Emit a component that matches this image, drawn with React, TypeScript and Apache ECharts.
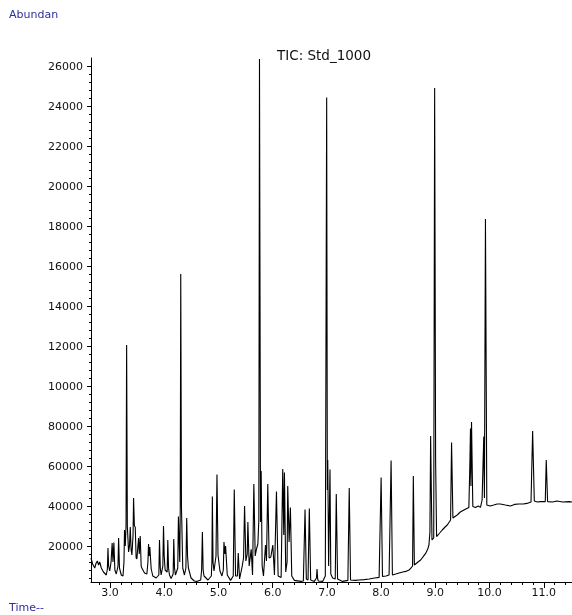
import React, { useEffect, useRef } from "react";
import * as echarts from "echarts";

// Retention time (min) / abundance pairs
const earlyElution: [number, number][] = [
  [2.65, 14000], [2.68, 11000], [2.719, 9000], [2.745, 11500], [2.767, 12500], [2.79, 10500], [2.811, 12000],
  [2.84, 9000], [2.88, 7000], [2.932, 5500], [2.952, 8500], [2.963, 19000], [2.975, 10000], [2.995, 7500],
  [3.02, 12000], [3.04, 21500], [3.055, 12000], [3.072, 21700], [3.09, 8000], [3.116, 6000], [3.148, 10000],
  [3.159, 24000], [3.175, 9000], [3.208, 5500], [3.24, 5000], [3.258, 12000], [3.268, 28000], [3.282, 20000],
  [3.296, 30000], [3.307, 120500], [3.32, 30000], [3.343, 17000], [3.36, 20000], [3.374, 29500], [3.39, 18000],
  [3.404, 15500], [3.425, 25000], [3.435, 44000], [3.45, 30000], [3.466, 29500], [3.482, 14000], [3.496, 13500],
  [3.515, 20000], [3.527, 24000], [3.54, 16000], [3.558, 25000], [3.575, 10000], [3.588, 9000], [3.637, 6500],
  [3.68, 6000], [3.7, 12000], [3.711, 21000], [3.722, 15000], [3.735, 19500], [3.76, 8500], [3.79, 5000],
  [3.851, 4000], [3.901, 5500], [3.913, 23000], [3.928, 9000], [3.943, 5500], [3.975, 10000], [3.987, 30000],
  [4.0, 15000], [4.017, 8000], [4.055, 7000], [4.066, 23000], [4.08, 9000], [4.097, 5500], [4.127, 3800],
  [4.165, 6000], [4.176, 23500], [4.19, 9000], [4.207, 5500], [4.25, 9000], [4.262, 34700], [4.287, 12000],
  [4.296, 40000], [4.305, 156000], [4.318, 40000], [4.342, 9000], [4.373, 5500], [4.4, 9000], [4.415, 34000],
  [4.43, 15000], [4.446, 9000], [4.495, 4000], [4.556, 2500],
];

const midElution: [number, number][] = [
  [4.6, 2300], [4.673, 3000], [4.69, 8000], [4.704, 27000], [4.718, 8000], [4.734, 5000], [4.807, 3000],
  [4.869, 5000], [4.88, 12000], [4.888, 44700], [4.9, 12000], [4.918, 7500], [4.955, 15000], [4.973, 55800],
  [4.992, 15500], [5.028, 7500], [5.065, 5000], [5.09, 8000], [5.102, 22000], [5.12, 16000], [5.132, 20000],
  [5.163, 5500], [5.224, 2800], [5.273, 5000], [5.292, 48300], [5.316, 5000], [5.35, 5000], [5.365, 16500],
  [5.39, 3500], [5.439, 10000], [5.463, 14000], [5.482, 40000], [5.506, 12500], [5.531, 16000], [5.543, 32000],
  [5.567, 10000], [5.604, 18300], [5.629, 5500], [5.653, 51000], [5.678, 15000], [5.702, 18500], [5.727, 21000],
  [5.745, 33000], [5.757, 263500], [5.776, 32000], [5.788, 57500], [5.806, 10000], [5.831, 5000], [5.868, 20500],
  [5.886, 12500], [5.91, 51000], [5.935, 14000], [5.966, 14500], [6.003, 20500], [6.033, 5500], [6.07, 47200],
  [6.101, 5000], [6.156, 4200], [6.186, 58500], [6.205, 25500], [6.217, 56700], [6.241, 7000], [6.266, 12000],
  [6.278, 50000], [6.303, 22000], [6.327, 39300], [6.352, 5000], [6.401, 2800], [6.524, 2300],
];

const lateElution: [number, number][] = [
  [6.566, 2500], [6.597, 38300], [6.621, 3500], [6.652, 3000], [6.676, 38800], [6.701, 3000], [6.768, 2300],
  [6.808, 4000], [6.818, 8500], [6.83, 3500], [6.842, 2500], [6.922, 2300], [6.971, 5000], [6.996, 244300],
  [7.008, 48000], [7.016, 63000], [7.032, 10000], [7.057, 58300], [7.072, 6000], [7.105, 4000], [7.154, 3500],
  [7.173, 46000], [7.197, 3500], [7.289, 2300], [7.387, 2800], [7.412, 49000], [7.436, 3000], [7.52, 2800],
  [7.596, 3000], [7.69, 3200], [7.779, 3500], [7.88, 4000], [7.963, 4300], [8.0, 54300], [8.025, 4800],
  [8.09, 5000], [8.147, 5500], [8.184, 62700], [8.208, 5500], [8.27, 6000], [8.331, 6500], [8.4, 7000],
  [8.454, 7300], [8.515, 8000],
];

const columnBleed: [number, number][] = [
  [8.545, 8800], [8.58, 10000], [8.594, 55000], [8.613, 10500], [8.68, 12000], [8.729, 13000], [8.78, 14800],
  [8.821, 16300], [8.86, 18500], [8.882, 20500], [8.9, 27000], [8.913, 75000], [8.938, 23000], [8.97, 24000],
  [8.987, 249000], [9.005, 62500], [9.023, 24700], [9.08, 26500], [9.127, 28000], [9.18, 29500], [9.22, 30500],
  [9.281, 33000], [9.299, 71700], [9.324, 34000], [9.403, 35500], [9.46, 37000], [9.526, 38000], [9.58, 38800],
  [9.618, 39300], [9.636, 60000], [9.648, 78800], [9.656, 50000], [9.667, 82000], [9.691, 39800], [9.74, 39300],
  [9.79, 40000], [9.832, 39300], [9.862, 43000], [9.893, 74700], [9.905, 44000], [9.924, 183500], [9.949, 40500],
  [10.01, 40000], [10.077, 40500], [10.14, 41000], [10.2, 41000], [10.29, 40500], [10.384, 40000], [10.46, 40800],
  [10.537, 41000], [10.62, 41000], [10.69, 41300], [10.764, 42000], [10.794, 77500], [10.825, 42500],
  [10.88, 42000], [10.935, 42200], [11.027, 42200], [11.045, 63000], [11.07, 42200], [11.16, 42000],
  [11.24, 42500], [11.35, 42000], [11.468, 42200], [11.52, 42000],
];

const xLabelValues = [3, 4, 5, 6, 7, 8, 9, 10, 11];
const yLabelValues = [
  20000, 40000, 60000, 80000, 100000, 120000, 140000, 160000, 180000, 200000, 220000, 240000, 260000,
];

const X_MIN = 2.65;
const X_MAX = 11.52;
const Y_MIN = 2000;
const Y_MAX = 264000;

export default function App() {
  const ref = useRef<HTMLDivElement>(null);

  useEffect(() => {
    if (!ref.current) return;
    const chart = echarts.init(ref.current, null, { renderer: "svg" });
    const font = "DejaVu Sans, Verdana, sans-serif";
    const data = [...earlyElution, ...midElution, ...lateElution, ...columnBleed];

    const xMinor: number[] = [];
    for (let i = 14; i <= 57; i++) xMinor.push(Math.round(i * 0.2 * 10) / 10);
    const yMinor: number[] = [];
    for (let v = 4000; v <= 260000; v += 4000) yMinor.push(v);

    chart.setOption({
      animation: false,
      grid: { left: 91, right: 0, top: 58, bottom: 33, containLabel: false },
      xAxis: [
        {
          type: "value",
          min: X_MIN,
          max: X_MAX,
          position: "bottom",
          axisLine: { show: true, onZero: false, lineStyle: { color: "#000", width: 1 } },
          axisTick: { show: true, customValues: xLabelValues, length: 6, lineStyle: { color: "#000" } },
          axisLabel: {
            customValues: xLabelValues,
            formatter: (v: number) => v.toFixed(1),
            margin: 5,
            fontSize: 11,
            color: "#111",
            fontFamily: font,
          },
          splitLine: { show: false },
        },
        {
          type: "value",
          min: X_MIN,
          max: X_MAX,
          position: "bottom",
          axisLine: { show: false, onZero: false },
          axisTick: { show: true, customValues: xMinor, length: 3, lineStyle: { color: "#000" } },
          axisLabel: { show: false },
          splitLine: { show: false },
        },
      ],
      yAxis: [
        {
          type: "value",
          min: Y_MIN,
          max: Y_MAX,
          position: "left",
          axisLine: { show: true, onZero: false, lineStyle: { color: "#000", width: 1 } },
          axisTick: { show: true, customValues: yLabelValues, length: 4, lineStyle: { color: "#000" } },
          axisLabel: {
            customValues: yLabelValues,
            formatter: (v: number) => String(v).slice(0, 5),
            margin: 8,
            fontSize: 11,
            color: "#111",
            fontFamily: font,
          },
          splitLine: { show: false },
        },
        {
          type: "value",
          min: Y_MIN,
          max: Y_MAX,
          position: "left",
          axisLine: { show: false, onZero: false },
          axisTick: { show: true, customValues: yMinor, length: 2, lineStyle: { color: "#000" } },
          axisLabel: { show: false },
          splitLine: { show: false },
        },
      ],
      graphic: [
        {
          type: "text",
          left: 9,
          top: 9,
          style: { text: "Abundan", fill: "#2e2e9e", font: `11px ${font}` },
        },
        {
          type: "text",
          x: 324,
          y: 55,
          style: {
            text: "TIC: Std_1000",
            fill: "#111",
            font: `13.5px ${font}`,
            textAlign: "center",
            textVerticalAlign: "middle",
          },
        },
        {
          type: "text",
          left: 9,
          top: 602,
          style: { text: "Time--", fill: "#2e2e9e", font: `11px ${font}` },
        },
      ],
      series: [
        {
          type: "line",
          xAxisIndex: 0,
          yAxisIndex: 0,
          data,
          showSymbol: false,
          symbol: "none",
          silent: true,
          lineStyle: { color: "#000", width: 1.1 },
        },
      ],
    });

    return () => chart.dispose();
  }, []);

  return (
    <div
      ref={ref}
      style={{ position: "fixed", left: 0, top: 0, width: 572, height: 615 }}
    />
  );
}
